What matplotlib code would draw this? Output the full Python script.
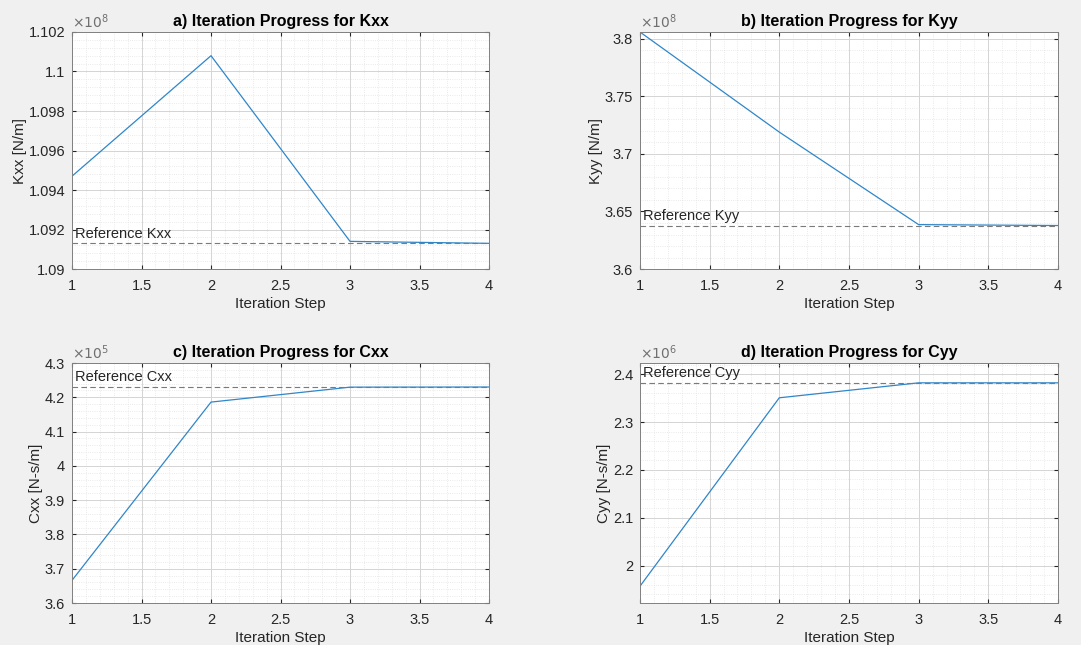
import numpy as np
import matplotlib
matplotlib.use('Agg')
import matplotlib.pyplot as plt
from matplotlib.ticker import MultipleLocator, AutoMinorLocator, FuncFormatter

plt.rcParams['font.family'] = ['Liberation Sans', 'DejaVu Sans']

steps = [1, 2, 3, 4]

# identified coefficients at each iteration
kxx = [1.0947e8, 1.1008e8, 1.0914e8, 1.0913e8]
kyy = [3.806e8, 3.719e8, 3.6386e8, 3.6378e8]
cxx = [3.666e5, 4.186e5, 4.2296e5, 4.2300e5]
cyy = [1.9566e6, 2.351e6, 2.3823e6, 2.3823e6]

# reference values
kxx_ref = 1.0913e8
kyy_ref = 3.6378e8
cxx_ref = 4.2300e5
cyy_ref = 2.3820e6

panels = [
    ('a) Iteration Progress for Kxx', 'Kxx [N/m]', kxx, kxx_ref, 'Reference Kxx', 8, (1.090, 1.102), 0.002),
    ('b) Iteration Progress for Kyy', 'Kyy [N/m]', kyy, kyy_ref, 'Reference Kyy', 8, (3.600, 3.806), 0.05),
    ('c) Iteration Progress for Cxx', 'Cxx [N-s/m]', cxx, cxx_ref, 'Reference Cxx', 5, (3.6, 4.3), 0.1),
    ('d) Iteration Progress for Cyy', 'Cyy [N-s/m]', cyy, cyy_ref, 'Reference Cyy', 6, (1.9215, 2.4238), 0.1),
]

positions = [
    [0.0666, 0.5829, 0.3858, 0.3675],
    [0.5920, 0.5829, 0.3867, 0.3675],
    [0.0666, 0.0651, 0.3858, 0.3721],
    [0.5920, 0.0651, 0.3867, 0.3721],
]

txt = '#262626'
fig = plt.figure(figsize=(10.81, 6.45), dpi=100, facecolor='#f0f0f0')

for (title, ylab, vals, ref, reflab, ex, ylim, ystep), pos in zip(panels, positions):
    ax = fig.add_axes(pos)
    scale = 10.0 ** ex
    y = np.array(vals) / scale
    ax.plot(steps, y, color='#2f86c9', lw=0.9)
    ax.axhline(ref / scale, color='#7a7a7a', lw=0.8, ls=(0, (5, 3)))
    ax.text(1.02, ref / scale + (ylim[1] - ylim[0]) * 0.012, reflab,
            fontsize=10.5, color=txt, va='bottom', ha='left')

    ax.set_xlim(1, 4)
    ax.set_ylim(*ylim)
    ax.xaxis.set_major_locator(MultipleLocator(0.5))
    ax.yaxis.set_major_locator(MultipleLocator(ystep))
    ax.xaxis.set_minor_locator(AutoMinorLocator(5))
    ax.yaxis.set_minor_locator(AutoMinorLocator(5))
    fmt = FuncFormatter(lambda v, p: ('%.4f' % v).rstrip('0').rstrip('.'))
    ax.xaxis.set_major_formatter(fmt)
    ax.yaxis.set_major_formatter(fmt)

    ax.grid(which='major', color='#d4d4d4', lw=0.7)
    ax.grid(which='minor', color='#e3e3e3', lw=0.6, ls=':')
    ax.set_axisbelow(True)
    ax.tick_params(which='both', direction='in', top=True, right=True,
                   labelsize=10.5, colors=txt, length=3)
    ax.tick_params(axis='x', pad=7)
    ax.tick_params(axis='y', pad=5)
    ax.tick_params(which='minor', length=0)
    for s in ax.spines.values():
        s.set_color('#808080')
        s.set_linewidth(0.7)

    ax.set_title(title, fontsize=11.5, fontweight='bold', color='black', pad=4)
    ax.set_xlabel('Iteration Step', fontsize=11, color=txt, labelpad=3)
    ax.set_ylabel(ylab, fontsize=11, color=txt, labelpad=1)
    ax.text(0.0, 1.005, r'$\times10^{%d}$' % ex, transform=ax.transAxes,
            fontsize=10, color='#707070', ha='left', va='bottom')

fig.savefig('out.png', dpi=100, facecolor=fig.get_facecolor())
